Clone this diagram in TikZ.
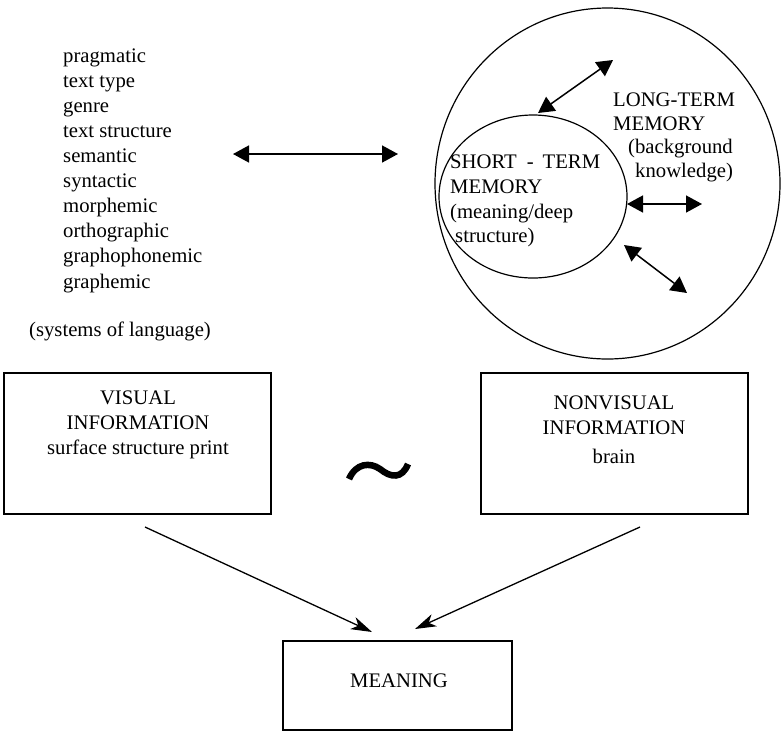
\documentclass[tikz,border=0pt]{standalone}
\usepackage{fontspec}
\setmainfont{Liberation Serif}
\usetikzlibrary{arrows.meta,shapes.geometric}

\tikzset{
  lbl/.style={inner sep=0pt, font=\fontsize{20.7}{25}\selectfont},
  listitem/.style={lbl, anchor=base west},
  boxtxt/.style={lbl, anchor=base},
  panel/.style={draw, line width=1.3pt, rectangle, inner sep=0pt},
  memring/.style={draw, line width=1.2pt, ellipse, inner sep=0pt},
  twoway/.style={line width=1.5pt, {Triangle[length=16pt,width=17pt]}-{Triangle[length=16pt,width=17pt]}},
  feed/.style={line width=1.3pt, -{Stealth[length=21pt,width=13pt,inset=6pt]}},
}

\begin{document}
\begin{tikzpicture}[x=1pt,y=-1pt]
  \useasboundingbox (0,0) rectangle (781,732);

  % systems of language
  \foreach \w [count=\i] in {pragmatic,text type,genre,text structure,semantic,
      syntactic,morphemic,orthographic,graphophonemic,graphemic}
    \node[listitem] (sys\i) at (63,{62.5+25.06*(\i-1)}) {\w};
  \node[listitem] (syslabel) at (29,336) {(systems of language)};

  % link between the language systems and memory
  \coordinate (linkL) at (233,154);
  \coordinate (linkR) at (398,154);
  \draw[twoway] (linkL) -- (linkR);

  % memory rings
  \node[memring, minimum width=345pt, minimum height=351pt] (ltm) at (607.5,183.5) {};
  \node[memring, minimum width=188pt, minimum height=163pt] (stm) at (533,196.5) {};

  \node[listitem] (ltm1) at (613,106) {LONG-TERM};
  \node[listitem] (ltm2) at (613,130) {MEMORY};
  \node[listitem] (ltm3) at (628,153) {(background};
  \node[listitem] (ltm4) at (635,177) {knowledge)};

  \node[listitem] (stm1) at (450,168) {SHORT\hspace{10pt}-\hspace{9pt}TERM};
  \node[listitem] (stm2) at (450,193) {MEMORY};
  \node[listitem] (stm3) at (450,218) {(meaning/deep};
  \node[listitem] (stm4) at (455,242) {structure)};

  % exchanges between short- and long-term memory
  \coordinate (xa1) at (538,113);  \coordinate (xa2) at (613,60);
  \coordinate (xb1) at (627,204);  \coordinate (xb2) at (702,204);
  \coordinate (xc1) at (624,245);  \coordinate (xc2) at (687,293);
  \draw[twoway] (xa1) -- (xa2);
  \draw[twoway] (xb1) -- (xb2);
  \draw[twoway] (xc1) -- (xc2);

  % information panels
  \node[panel, minimum width=267pt, minimum height=141pt] (vis) at (137.5,443.5) {};
  \node[boxtxt] (vis1) at (138,404) {VISUAL};
  \node[boxtxt] (vis2) at (138,429) {INFORMATION};
  \node[boxtxt] (vis3) at (138,454) {surface structure print};

  \node[panel, minimum width=267pt, minimum height=141pt] (nvis) at (614.5,443.5) {};
  \node[boxtxt] (nvis1) at (614,409) {NONVISUAL};
  \node[boxtxt] (nvis2) at (614,434) {INFORMATION};
  \node[boxtxt] (nvis3) at (614,463) {brain};

  % tilde between the panels
  \draw[line width=6.5pt] (349,479) .. controls (356,463) and (370,462) .. (380,469)
    .. controls (391,478) and (402,479) .. (408,464);

  % meaning
  \node[panel, minimum width=229pt, minimum height=89pt] (mean) at (397.5,685.5) {};
  \node[boxtxt] (mean1) at (399,687) {MEANING};

  \coordinate (visout) at (145,527);
  \coordinate (meanL) at (372,632);
  \coordinate (nvisout) at (640,527);
  \coordinate (meanR) at (415,629);
  \draw[feed] (visout) -- (meanL);
  \draw[feed] (nvisout) -- (meanR);
\end{tikzpicture}
\end{document}
